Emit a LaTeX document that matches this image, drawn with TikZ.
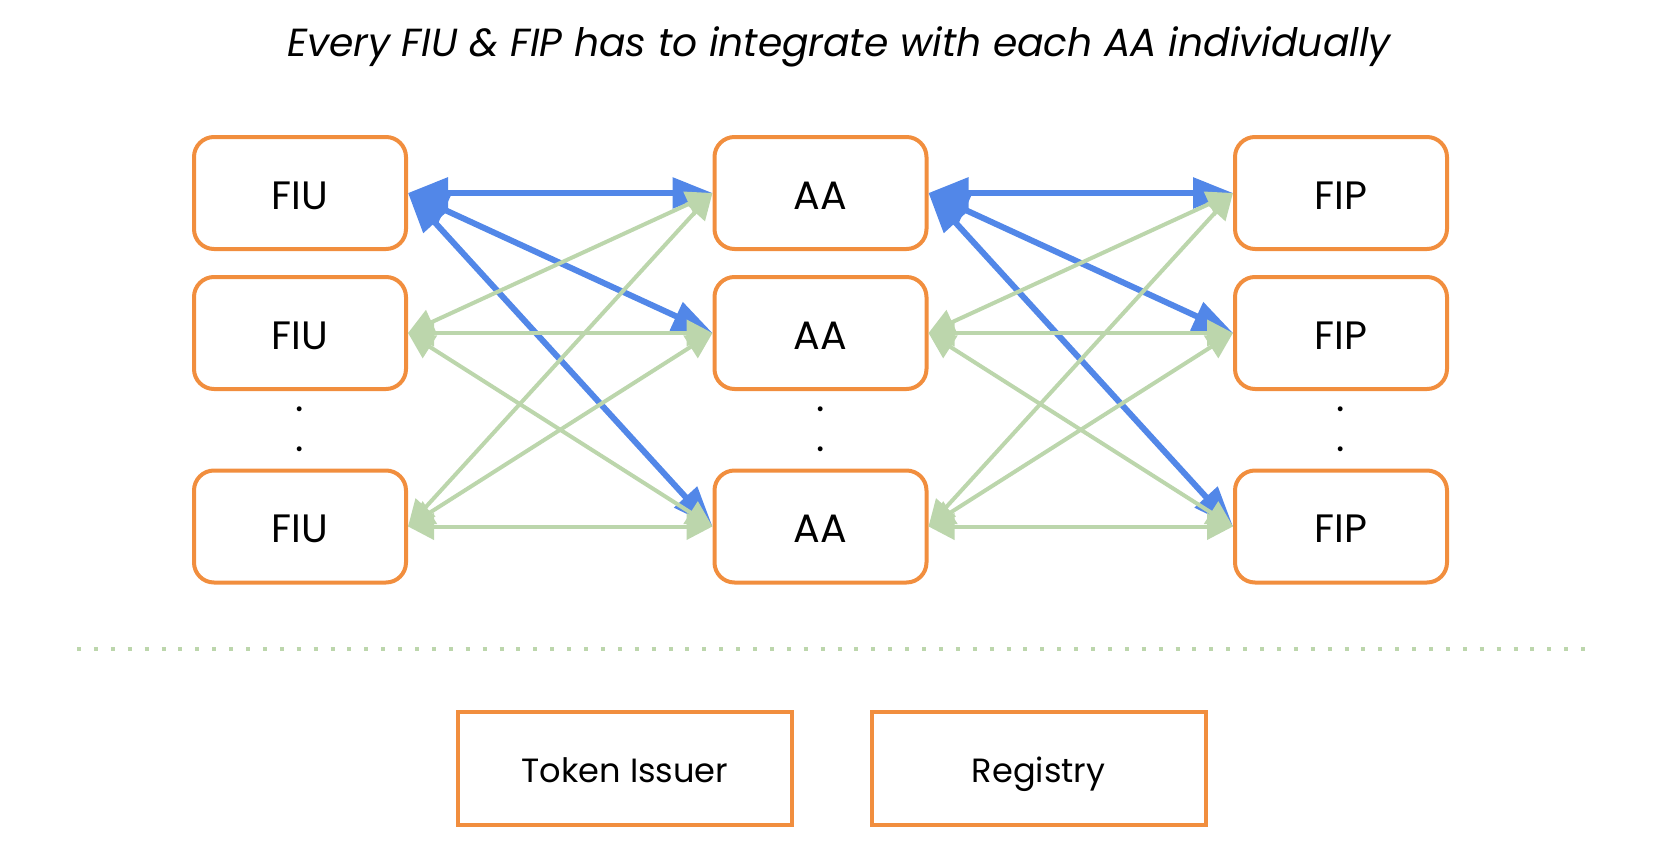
\documentclass[tikz,border=0pt]{standalone}
\usepackage{fontspec}
\setmainfont{Poppins}
\usetikzlibrary{arrows.meta}
\definecolor{boxorange}{RGB}{241,142,62}
\definecolor{linkblue}{RGB}{82,135,232}
\definecolor{linkgreen}{RGB}{188,214,172}

\begin{document}
\begin{tikzpicture}[x=0.5pt, y=-0.5pt,
		party/.style={draw=boxorange, line width=2pt, rounded corners=10pt, minimum width=106pt, minimum height=56pt, text height=16pt, text depth=0pt, font=\fontsize{19.8}{24}\selectfont},
		service/.style={draw=boxorange, line width=2pt, minimum width=167pt, minimum height=56.5pt, text height=14pt, text depth=0pt, font=\fontsize{16.8}{20}\selectfont},
		gap/.style={font=\fontsize{19.8}{24}\selectfont},
		direct/.style={linkblue, line width=3pt, {Triangle[length=20pt,width=15pt]}-{Triangle[length=20pt,width=15pt]}},
		other/.style={linkgreen, line width=2pt, {Triangle[length=13pt,width=13pt]}-{Triangle[length=13pt,width=13pt]}}]
		\useasboundingbox (0,0) rectangle (1656,846);
		%\draw [help lines] (0,0) grid (1656,846);
		\node (title) at (839,47) {\fontsize{19.6}{24}\selectfont\itshape Every FIU \& FIP has to integrate with each AA individually};
		% parties
		\node[party] (fiu1) at (300,193) {FIU};
		\node[party] (fiu2) at (300,333) {FIU};
		\node[party] (fiu3) at (300,526.5) {FIU};
		\node[party] (aa1) at (820.5,193) {AA};
		\node[party] (aa2) at (820.5,333) {AA};
		\node[party] (aa3) at (820.5,526.5) {AA};
		\node[party] (fip1) at (1341,193) {FIP};
		\node[party] (fip2) at (1341,333) {FIP};
		\node[party] (fip3) at (1341,526.5) {FIP};
		\node[gap] (fiudots1) at (300,409) {.};
		\node[gap] (fiudots2) at (300,449) {.};
		\node[gap] (aadots1) at (820.5,409) {.};
		\node[gap] (aadots2) at (820.5,449) {.};
		\node[gap] (fipdots1) at (1341,409) {.};
		\node[gap] (fipdots2) at (1341,449) {.};
		% one FIU and one AA
		\draw[direct] (fiu1.east) -- (aa1.west);
		\draw[direct] (fiu1.east) -- (aa2.west);
		\draw[direct] (fiu1.east) -- (aa3.west);
		\draw[direct] (aa1.east) -- (fip1.west);
		\draw[direct] (aa1.east) -- (fip2.west);
		\draw[direct] (aa1.east) -- (fip3.west);
		% all the rest
		\draw[other] (fiu2.east) -- (aa1.west);
		\draw[other] (fiu2.east) -- (aa2.west);
		\draw[other] (fiu2.east) -- (aa3.west);
		\draw[other] (fiu3.east) -- (aa1.west);
		\draw[other] (fiu3.east) -- (aa2.west);
		\draw[other] (fiu3.east) -- (aa3.west);
		\draw[other] (aa2.east) -- (fip1.west);
		\draw[other] (aa2.east) -- (fip2.west);
		\draw[other] (aa2.east) -- (fip3.west);
		\draw[other] (aa3.east) -- (fip1.west);
		\draw[other] (aa3.east) -- (fip2.west);
		\draw[other] (aa3.east) -- (fip3.west);
		% separator
		\draw[linkgreen, line width=2pt, dash pattern=on 2pt off 6.45pt] (77,649) -- (1592,649);
		\node[service] (issuer) at (625,768.5) {Token Issuer};
		\node[service] (registry) at (1038.5,768.5) {Registry};
	\end{tikzpicture}
\end{document}
